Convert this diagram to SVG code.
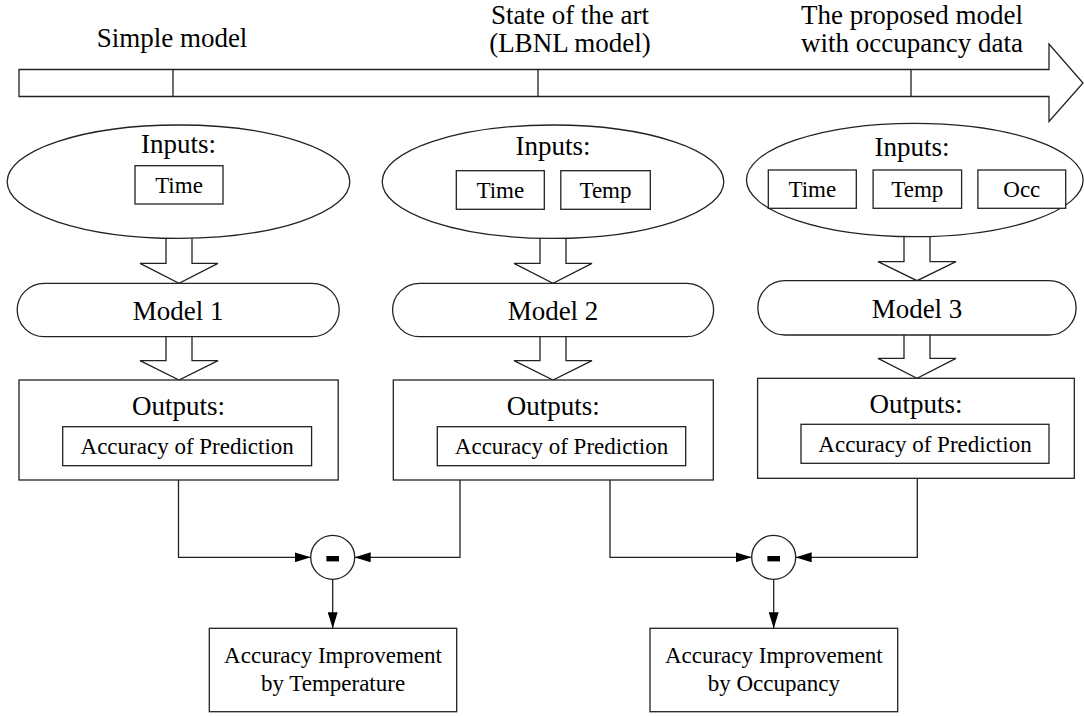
<svg xmlns="http://www.w3.org/2000/svg" width="1084" height="716" viewBox="0 0 1084 716">
<defs>
<style>
.ln{fill:none;stroke:#222;stroke-width:1.3}
.sh{fill:#fff;stroke:#222;stroke-width:1.3}
text{font-family:"Liberation Serif","Times New Roman",serif;fill:#000;text-anchor:middle}
.big{font-size:27px}
.lab{font-size:27px}
.sm{font-size:23px}
</style>
<marker id="ah" viewBox="0 0 16 10" refX="16" refY="5" markerWidth="16" markerHeight="10" markerUnits="userSpaceOnUse" orient="auto">
<path d="M0,0 L16,5 L0,10 Z" fill="#000"/>
</marker>
</defs>
<rect width="1084" height="716" fill="#fff"/>

<g id="timeline">
<path class="sh" d="M19,69.5 H1049 V44 L1083,83 L1049,121.5 V96.5 H19 Z"/>
<path class="ln" d="M173,69.5 V96.5 M538,69.5 V96.5 M911,69.5 V96.5"/>
<text class="big" x="172" y="47">Simple model</text>
<text class="big" x="570" y="24">State of the art</text>
<text class="big" x="570" y="52">(LBNL model)</text>
<text class="big" x="912" y="24">The proposed model</text>
<text class="big" x="912" y="52">with occupancy data</text>
</g>

<g id="connectors">
<path class="sh" d="M166,234 V263.3 H140 L179,283.3 L218,263.3 H192 V234"/>
<path class="sh" d="M166,336.7 V360.7 H140 L179,380 L218,360.7 H192 V336.7"/>
<path class="sh" d="M540,234 V263.3 H514 L553,283.3 L592,263.3 H566 V234"/>
<path class="sh" d="M540,336.7 V360.7 H514 L553,380 L592,360.7 H566 V336.7"/>
<path class="sh" d="M904,232 V261.7 H878 L917,280.7 L956,261.7 H930 V232"/>
<path class="sh" d="M904,335 V358.3 H878 L917,378.3 L956,358.3 H930 V335"/>
<path class="ln" d="M178.5,480 V557.3 H310.7" marker-end="url(#ah)"/>
<path class="ln" d="M460,480 V557.3 H354.7" marker-end="url(#ah)"/>
<path class="ln" d="M610,480 V557.3 H751.7" marker-end="url(#ah)"/>
<path class="ln" d="M917.3,478.3 V557.3 H795.7" marker-end="url(#ah)"/>
<path class="ln" d="M332.7,579.3 V628.3" marker-end="url(#ah)"/>
<path class="ln" d="M773.7,579.3 V628.3" marker-end="url(#ah)"/>
</g>

<g id="inputs1">
<ellipse class="sh" cx="178.5" cy="181.7" rx="171.3" ry="56.7"/>
<text class="lab" x="178.5" y="153">Inputs:</text>
<rect class="sh" x="135" y="165.7" width="88" height="38.3"/>
<text class="sm" x="179" y="193">Time</text>
</g>
<g id="inputs2">
<ellipse class="sh" cx="553" cy="181.7" rx="170.8" ry="56.7"/>
<text class="lab" x="553" y="155">Inputs:</text>
<rect class="sh" x="456.3" y="170.7" width="88" height="38.6"/>
<text class="sm" x="500.3" y="198">Time</text>
<rect class="sh" x="560.8" y="170.7" width="89.5" height="38.6"/>
<text class="sm" x="605.5" y="198">Temp</text>
</g>
<g id="inputs3">
<ellipse class="sh" cx="914.8" cy="180" rx="168.3" ry="56.7"/>
<text class="lab" x="912" y="156">Inputs:</text>
<rect class="sh" x="768.3" y="170" width="88" height="38.3"/>
<text class="sm" x="812.3" y="197">Time</text>
<rect class="sh" x="873.1" y="170" width="88.5" height="38.3"/>
<text class="sm" x="917.3" y="197">Temp</text>
<rect class="sh" x="977.9" y="170" width="87.8" height="38.3"/>
<text class="sm" x="1021.8" y="197">Occ</text>
</g>

<g id="model1">
<rect class="sh" x="17.2" y="283.3" width="322" height="53.4" rx="27" ry="26.7"/>
<text class="lab" x="178.2" y="319.5">Model 1</text>
</g>
<g id="model2">
<rect class="sh" x="392.6" y="283.3" width="321" height="53.4" rx="27" ry="26.7"/>
<text class="lab" x="553" y="319.5">Model 2</text>
</g>
<g id="model3">
<rect class="sh" x="757.9" y="280.7" width="318.2" height="54.3" rx="27" ry="27"/>
<text class="lab" x="917" y="317.5">Model 3</text>
</g>

<g id="outputs1">
<rect class="sh" x="19" y="380" width="319.2" height="100"/>
<text class="lab" x="178.6" y="415">Outputs:</text>
<rect class="sh" x="62.7" y="426.7" width="248.9" height="39"/>
<text class="sm" x="187.2" y="454">Accuracy of Prediction</text>
</g>
<g id="outputs2">
<rect class="sh" x="393.3" y="380" width="320" height="100"/>
<text class="lab" x="553.3" y="415">Outputs:</text>
<rect class="sh" x="437.3" y="426.7" width="248.4" height="39"/>
<text class="sm" x="561.5" y="454">Accuracy of Prediction</text>
</g>
<g id="outputs3">
<rect class="sh" x="757.6" y="378.3" width="316.7" height="100"/>
<text class="lab" x="916" y="413">Outputs:</text>
<rect class="sh" x="801" y="424.3" width="248" height="39"/>
<text class="sm" x="925" y="452">Accuracy of Prediction</text>
</g>

<g id="minus1">
<circle class="sh" cx="332.7" cy="557.3" r="22"/>
<rect x="326.4" y="556" width="12.6" height="5.4" fill="#000"/>
</g>
<g id="minus2">
<circle class="sh" cx="773.7" cy="557.3" r="22"/>
<rect x="767.4" y="556" width="12.6" height="5.4" fill="#000"/>
</g>

<g id="improve1">
<rect class="sh" x="209.3" y="628.3" width="247.4" height="83.4"/>
<text class="sm" x="333" y="663">Accuracy Improvement</text>
<text class="sm" x="333" y="691">by Temperature</text>
</g>
<g id="improve2">
<rect class="sh" x="650" y="628.3" width="247.7" height="83.4"/>
<text class="sm" x="773.8" y="663">Accuracy Improvement</text>
<text class="sm" x="773.8" y="691">by Occupancy</text>
</g>
</svg>
